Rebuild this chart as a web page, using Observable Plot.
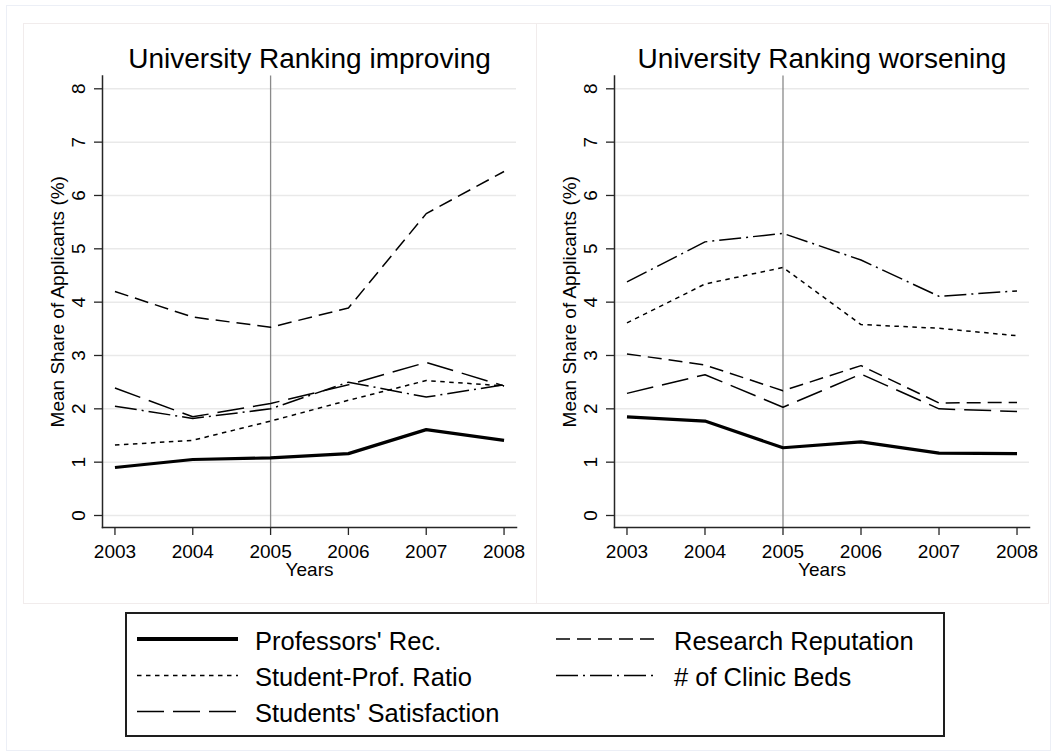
<!DOCTYPE html>
<html><head><meta charset="utf-8">
<script src="https://cdn.jsdelivr.net/npm/d3@7"></script>
<script src="https://cdn.jsdelivr.net/npm/@observablehq/plot@0.6"></script>
<style>
body{margin:0;background:#fff;font-family:"Liberation Sans",Arial,sans-serif;}
#root{position:relative;width:1057px;height:756px;background:#fff;overflow:hidden}
.abs{position:absolute;box-sizing:border-box}
</style></head><body><div id="root"></div>
<script>
// ---------- data ----------
const years = [2003, 2004, 2005, 2006, 2007, 2008];
const yTicks = [0, 1, 2, 3, 4, 5, 6, 7, 8];
const eventYear = 2005;
const panelTitles = ["University Ranking improving", "University Ranking worsening"];
const xAxisTitle = "Years";
const yAxisTitle = "Mean Share of Applicants (%)";
const seriesNames = ["Professors' Rec.", "Research Reputation", "Student-Prof. Ratio", "# of Clinic Beds", "Students' Satisfaction"];

const improvingProfessorsRec        = [0.90, 1.05, 1.08, 1.16, 1.61, 1.41];
const improvingResearchReputation   = [4.20, 3.72, 3.53, 3.89, 5.66, 6.45];
const improvingStudentProfRatio     = [1.32, 1.41, 1.77, 2.16, 2.53, 2.43];
const improvingClinicBeds           = [2.05, 1.82, 2.00, 2.50, 2.22, 2.45];
const improvingStudentsSatisfaction = [2.39, 1.85, 2.10, 2.45, 2.87, 2.43];

const worseningProfessorsRec        = [1.85, 1.77, 1.27, 1.38, 1.17, 1.16];
const worseningResearchReputation   = [3.03, 2.82, 2.34, 2.81, 2.11, 2.12];
const worseningStudentProfRatio     = [3.61, 4.34, 4.65, 3.58, 3.51, 3.37];
const worseningClinicBeds           = [4.38, 5.13, 5.29, 4.79, 4.11, 4.21];
const worseningStudentsSatisfaction = [2.29, 2.64, 2.03, 2.65, 2.00, 1.95];

// ---------- styles ----------
const lineStyles = {
  "Professors' Rec.":       {strokeWidth: 3.2, dash: null},
  "Research Reputation":    {strokeWidth: 1.5, dash: "14,7"},
  "Student-Prof. Ratio":    {strokeWidth: 1.5, dash: "4.5,4.5"},
  "# of Clinic Beds":       {strokeWidth: 1.5, dash: "22,5,2,5"},
  "Students' Satisfaction": {strokeWidth: 1.5, dash: "27,9"}
};
const FONT = "'Liberation Sans', Arial, Helvetica, sans-serif";
const AXIS_COLOR = "#262626";

const panels = [
  {title: panelTitles[0], left: 23, width: 513, marginLeft: 79,
   values: [improvingProfessorsRec, improvingResearchReputation, improvingStudentProfRatio, improvingClinicBeds, improvingStudentsSatisfaction]},
  {title: panelTitles[1], left: 536, width: 513, marginLeft: 78,
   values: [worseningProfessorsRec, worseningResearchReputation, worseningStudentProfRatio, worseningClinicBeds, worseningStudentsSatisfaction]}
];

const root = document.getElementById("root");
function box(l, t, w, h, css) {
  const d = document.createElement("div");
  d.className = "abs";
  d.style.cssText += `left:${l}px;top:${t}px;width:${w}px;height:${h}px;` + css;
  root.appendChild(d);
  return d;
}
// outer and panel borders
box(6, 5, 1045, 746, "border:1px solid #eceff6;");
box(23, 23, 514, 581, "border:1px solid #f1ecec;");
box(536, 23, 513, 581, "border:1px solid #f1ecec;");

function makePanel(p) {
  const marks = [
    Plot.gridY(yTicks, {stroke: "#e9e9e9", strokeOpacity: 1, strokeWidth: 1.5}),
    Plot.ruleX([eventYear], {stroke: "#8a8a8a", strokeWidth: 1.3})
  ];
  seriesNames.forEach((name, k) => {
    const rows = years.map((yr, i) => ({year: yr, value: p.values[k][i], series: name}));
    const st = lineStyles[name];
    marks.push(Plot.line(rows, {
      x: "year", y: "value", stroke: "#000",
      strokeWidth: st.strokeWidth,
      strokeDasharray: st.dash || undefined,
      strokeLinejoin: "round", strokeLinecap: "butt"
    }));
  });
  marks.push(
    Plot.frame({anchor: "left", stroke: AXIS_COLOR, strokeWidth: 1.5}),
    Plot.frame({anchor: "bottom", stroke: AXIS_COLOR, strokeWidth: 1.5}),
    Plot.axisX({ticks: years, tickFormat: d => String(d), tickSize: 8, tickPadding: 9,
                fontSize: 19, label: null, stroke: AXIS_COLOR, fill: "#000", strokeWidth: 1.3}),
    Plot.axisY({ticks: yTicks, tickFormat: () => "", tickSize: 8, label: null,
                stroke: AXIS_COLOR, strokeWidth: 1.3}),
    Plot.text(yTicks, {y: d => d, text: d => String(d), frameAnchor: "left", rotate: -90,
                       dx: -23.5, fontSize: 19, lineAnchor: "middle", textAnchor: "middle", fill: "#000"}),
    Plot.text([p.title], {text: d => d, frameAnchor: "top", dy: -8.5, lineAnchor: "bottom",
                          fontSize: 28, fill: "#000"}),
    Plot.text([xAxisTitle], {text: d => d, frameAnchor: "bottom", dy: 42.5, lineAnchor: "middle",
                             fontSize: 19, fill: "#000"}),
    Plot.text([yAxisTitle], {text: d => d, frameAnchor: "left", rotate: -90, dx: -45,
                             lineAnchor: "middle", textAnchor: "middle", fontSize: 19, fill: "#000"})
  );
  const svg = Plot.plot({
    width: p.width, height: 581,
    marginLeft: p.marginLeft, marginRight: 20, marginTop: 52.5, marginBottom: 77,
    x: {domain: [2002.84, 2008.16]},
    y: {domain: [-0.225, 8.24]},
    style: {fontFamily: FONT, background: "transparent", color: "#000", overflow: "visible"},
    marks
  });
  svg.classList.add("abs");
  svg.style.left = p.left + "px";
  svg.style.top = "23px";
  root.appendChild(svg);
}
panels.forEach(makePanel);

// ---------- legend ----------
const legendItems = [
  {name: seriesNames[0], col: 0, row: 0},
  {name: seriesNames[2], col: 0, row: 1},
  {name: seriesNames[4], col: 0, row: 2},
  {name: seriesNames[1], col: 1, row: 0},
  {name: seriesNames[3], col: 1, row: 1}
];
const NS = "http://www.w3.org/2000/svg";
const lg = document.createElementNS(NS, "svg");
lg.setAttribute("width", 1057); lg.setAttribute("height", 756);
lg.setAttribute("class", "abs");
lg.style.left = "0px"; lg.style.top = "0px";
const rect = document.createElementNS(NS, "rect");
rect.setAttribute("x", 126); rect.setAttribute("y", 613);
rect.setAttribute("width", 818); rect.setAttribute("height", 123);
rect.setAttribute("fill", "#fff"); rect.setAttribute("stroke", "#1e1e1e"); rect.setAttribute("stroke-width", 2);
lg.appendChild(rect);
const colX = [{x1: 137, x2: 238, tx: 255}, {x1: 556, x2: 656, tx: 674}];
const rowLineY = [639, 675.5, 711.5];
const rowBase = [650, 686, 721.5];
legendItems.forEach(it => {
  const st = lineStyles[it.name];
  const c = colX[it.col];
  const ln = document.createElementNS(NS, "line");
  ln.setAttribute("x1", c.x1); ln.setAttribute("x2", c.x2);
  ln.setAttribute("y1", rowLineY[it.row]); ln.setAttribute("y2", rowLineY[it.row]);
  ln.setAttribute("stroke", "#000");
  ln.setAttribute("stroke-width", it.name === seriesNames[0] ? 4 : 1.6);
  if (st.dash) ln.setAttribute("stroke-dasharray", st.dash);
  lg.appendChild(ln);
  const tx = document.createElementNS(NS, "text");
  tx.setAttribute("x", c.tx); tx.setAttribute("y", rowBase[it.row]);
  tx.setAttribute("font-family", FONT); tx.setAttribute("font-size", 25.5);
  tx.setAttribute("fill", "#000");
  tx.textContent = it.name;
  lg.appendChild(tx);
});
root.appendChild(lg);
</script>
</body></html>
